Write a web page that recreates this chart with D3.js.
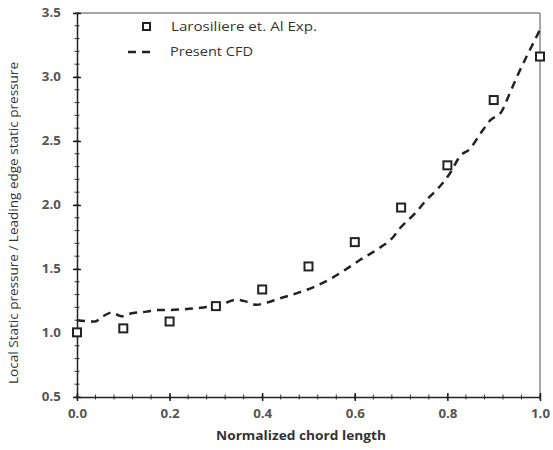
<!DOCTYPE html>
<html>
<head>
<meta charset="utf-8">
<script src="https://cdn.jsdelivr.net/npm/d3@7"></script>
<style>
  body { margin: 0; background: #fff; }
  text { font-family: "Open Sans", sans-serif; }
</style>
</head>
<body>
<div id="chart"></div>
<script>
// Experimental points (Larosiliere et. Al)
const expX = [0.0, 0.1, 0.2, 0.3, 0.4, 0.5, 0.6, 0.7, 0.8, 0.9, 1.0];
const expY = [1.005, 1.036, 1.09, 1.21, 1.34, 1.52, 1.71, 1.98, 2.31, 2.82, 3.16];

// Present CFD curve
const cfdX = [0.0, 0.039, 0.056, 0.075, 0.096, 0.114, 0.15, 0.172, 0.194, 0.23, 0.273, 0.309, 0.345, 0.366, 0.388, 0.402, 0.438, 0.474, 0.51, 0.546, 0.582, 0.611, 0.647, 0.683, 0.698, 0.73, 0.755, 0.78, 0.806, 0.827, 0.849, 0.87, 0.892, 0.917, 0.932, 0.95, 0.971, 0.989, 1.0];
const cfdY = [1.10, 1.09, 1.13, 1.16, 1.13, 1.15, 1.167, 1.18, 1.18, 1.185, 1.20, 1.22, 1.26, 1.245, 1.22, 1.23, 1.27, 1.31, 1.357, 1.42, 1.50, 1.57, 1.65, 1.75, 1.82, 1.935, 2.04, 2.13, 2.25, 2.38, 2.44, 2.55, 2.66, 2.73, 2.85, 3.00, 3.16, 3.29, 3.37];

const xTicks = [0, 0.2, 0.4, 0.6, 0.8, 1.0];
const yTicks = [0.5, 1.0, 1.5, 2.0, 2.5, 3.0, 3.5];

const width = 553, height = 450;
const margin = { left: 77, top: 13, right: 13, bottom: 53 };

const svg = d3.select('#chart').append('svg')
  .attr('width', width)
  .attr('height', height);

const x = d3.scaleLinear().domain([0, 1]).range([margin.left, width - margin.right]);
const y = d3.scaleLinear().domain([0.5, 3.5]).range([height - margin.bottom, margin.top]);

// frame (top and right)
svg.append('line')
  .attr('x1', x(0)).attr('x2', x(1)).attr('y1', y(3.5)).attr('y2', y(3.5))
  .attr('stroke', '#888').attr('stroke-width', 1.5);
svg.append('line')
  .attr('x1', x(1)).attr('x2', x(1)).attr('y1', y(3.5)).attr('y2', y(0.5))
  .attr('stroke', '#888').attr('stroke-width', 1.5);

// minor ticks
const xMinor = d3.range(0, 1.0001, 0.04);
const yMinor = d3.range(0.5, 3.5001, 0.1);
svg.append('g').selectAll('line').data(xMinor).enter().append('line')
  .attr('x1', d => x(d)).attr('x2', d => x(d))
  .attr('y1', y(0.5) - 2.5).attr('y2', y(0.5) + 2.5)
  .attr('stroke', '#333').attr('stroke-width', 1);
svg.append('g').selectAll('line').data(yMinor).enter().append('line')
  .attr('x1', x(0) - 2.5).attr('x2', x(0) + 2.5)
  .attr('y1', d => y(d)).attr('y2', d => y(d))
  .attr('stroke', '#333').attr('stroke-width', 1);

// axes
const xAxis = svg.append('g')
  .attr('transform', `translate(0,${y(0.5)})`)
  .call(d3.axisBottom(x).tickValues(xTicks).tickFormat(d3.format('.1f')).tickSizeInner(4).tickSizeOuter(0));
const yAxis = svg.append('g')
  .attr('transform', `translate(${x(0)},0)`)
  .call(d3.axisLeft(y).tickValues(yTicks).tickFormat(d3.format('.1f')).tickSizeInner(4).tickSizeOuter(0));

[xAxis, yAxis].forEach(g => {
  g.select('.domain').attr('stroke', '#222').attr('stroke-width', 1.5);
  g.selectAll('.tick line').attr('stroke', '#222').attr('stroke-width', 1.5);
  g.selectAll('.tick text')
    .attr('fill', '#555')
    .attr('textLength', 19)
    .attr('lengthAdjust', 'spacingAndGlyphs')
    .style('font-size', '11.5px')
    .style('font-weight', 'bold');
});
// major ticks cross the axis
xAxis.selectAll('.tick line').attr('y1', -4);
yAxis.selectAll('.tick line').attr('x1', 4);
xAxis.selectAll('.tick text').attr('dy', '1.25em');
yAxis.selectAll('.tick text').attr('dx', '-0.8em');

// CFD dashed curve
const cfd = cfdX.map((d, i) => [d, cfdY[i]]);
svg.append('path')
  .datum(cfd)
  .attr('fill', 'none')
  .attr('stroke', '#222')
  .attr('stroke-width', 2.5)
  .attr('stroke-dasharray', '8,6')
  .attr('d', d3.line().x(d => x(d[0])).y(d => y(d[1])).curve(d3.curveMonotoneX));

// experimental squares
const exp = expX.map((d, i) => [d, expY[i]]);
svg.append('g').selectAll('rect').data(exp).enter().append('rect')
  .attr('x', d => x(d[0]) - 4)
  .attr('y', d => y(d[1]) - 4)
  .attr('width', 8).attr('height', 8)
  .attr('fill', '#fff')
  .attr('stroke', '#222')
  .attr('stroke-width', 2);

// legend
const legend = svg.append('g');
legend.append('rect')
  .attr('x', 143).attr('y', 23).attr('width', 7).attr('height', 7)
  .attr('fill', '#fff').attr('stroke', '#222').attr('stroke-width', 2);
legend.append('text')
  .attr('x', 171).attr('y', 31)
  .attr('fill', '#333')
  .attr('textLength', 146)
  .attr('lengthAdjust', 'spacingAndGlyphs')
  .style('font-size', '12px')
  .text('Larosiliere et. Al  Exp.');
legend.append('line')
  .attr('x1', 128).attr('x2', 154).attr('y1', 52).attr('y2', 52)
  .attr('stroke', '#222').attr('stroke-width', 2.5).attr('stroke-dasharray', '8,6');
legend.append('text')
  .attr('x', 170).attr('y', 56)
  .attr('fill', '#333')
  .attr('textLength', 83)
  .attr('lengthAdjust', 'spacingAndGlyphs')
  .style('font-size', '12px')
  .text('Present CFD');

// axis titles
svg.append('text')
  .attr('x', 301)
  .attr('y', 440)
  .attr('text-anchor', 'middle')
  .attr('fill', '#333')
  .attr('textLength', 170)
  .attr('lengthAdjust', 'spacingAndGlyphs')
  .style('font-size', '12px')
  .style('font-weight', 'bold')
  .text('Normalized chord length');

svg.append('text')
  .attr('transform', `translate(18,223) rotate(-90)`)
  .attr('text-anchor', 'middle')
  .attr('fill', '#333')
  .attr('textLength', 322)
  .attr('lengthAdjust', 'spacingAndGlyphs')
  .style('font-size', '12px')
  .text('Local Static pressure / Leading edge static pressure');
</script>
</body>
</html>
